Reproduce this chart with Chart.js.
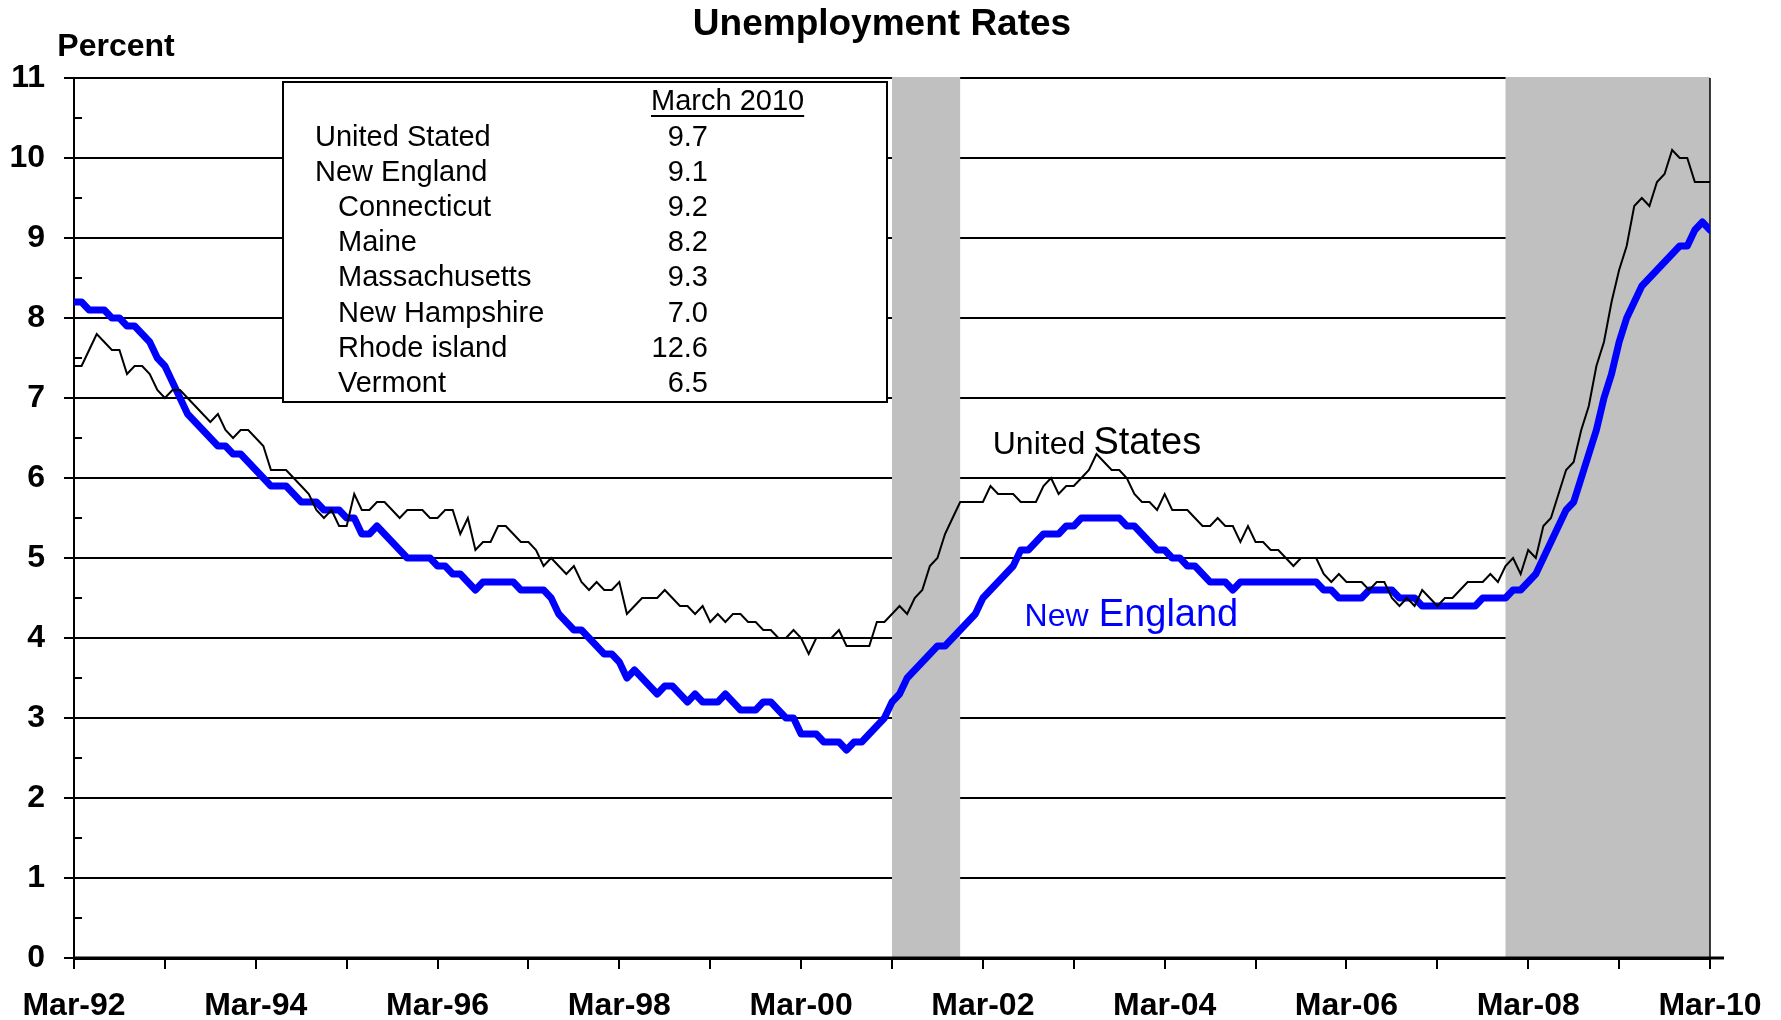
<!DOCTYPE html>
<html>
<head>
<meta charset="utf-8">
<title>Unemployment Rates</title>
<script src="https://cdn.jsdelivr.net/npm/chart.js"></script>
<style>
    html, body { margin: 0; padding: 0; background: #fff; }
    #chart { display: block; }
</style>
</head>
<body>
<canvas id="chart" width="1781" height="1020"></canvas>
<script>
    // monthly rates, Mar-92 .. Mar-10 (index 0 = Mar-92)
    const tickLabels = ['Mar-92', 'Mar-94', 'Mar-96', 'Mar-98', 'Mar-00', 'Mar-02', 'Mar-04', 'Mar-06', 'Mar-08', 'Mar-10'];

    const usRate = [
        7.4, 7.4, 7.6, 7.8, 7.7, 7.6, 7.6, 7.3, 7.4, 7.4,                  // 1992 Mar-Dec
        7.3, 7.1, 7.0, 7.1, 7.1, 7.0, 6.9, 6.8, 6.7, 6.8, 6.6, 6.5,        // 1993
        6.6, 6.6, 6.5, 6.4, 6.1, 6.1, 6.1, 6.0, 5.9, 5.8, 5.6, 5.5,        // 1994
        5.6, 5.4, 5.4, 5.8, 5.6, 5.6, 5.7, 5.7, 5.6, 5.5, 5.6, 5.6,        // 1995
        5.6, 5.5, 5.5, 5.6, 5.6, 5.3, 5.5, 5.1, 5.2, 5.2, 5.4, 5.4,        // 1996
        5.3, 5.2, 5.2, 5.1, 4.9, 5.0, 4.9, 4.8, 4.9, 4.7, 4.6, 4.7,        // 1997
        4.6, 4.6, 4.7, 4.3, 4.4, 4.5, 4.5, 4.5, 4.6, 4.5, 4.4, 4.4,        // 1998
        4.3, 4.4, 4.2, 4.3, 4.2, 4.3, 4.3, 4.2, 4.2, 4.1, 4.1, 4.0,        // 1999
        4.0, 4.1, 4.0, 3.8, 4.0, 4.0, 4.0, 4.1, 3.9, 3.9, 3.9, 3.9,        // 2000
        4.2, 4.2, 4.3, 4.4, 4.3, 4.5, 4.6, 4.9, 5.0, 5.3, 5.5, 5.7,        // 2001
        5.7, 5.7, 5.7, 5.9, 5.8, 5.8, 5.8, 5.7, 5.7, 5.7, 5.9, 6.0,        // 2002
        5.8, 5.9, 5.9, 6.0, 6.1, 6.3, 6.2, 6.1, 6.1, 6.0, 5.8, 5.7,        // 2003
        5.7, 5.6, 5.8, 5.6, 5.6, 5.6, 5.5, 5.4, 5.4, 5.5, 5.4, 5.4,        // 2004
        5.2, 5.4, 5.2, 5.2, 5.1, 5.1, 5.0, 4.9, 5.0, 5.0, 5.0, 4.8,        // 2005
        4.7, 4.8, 4.7, 4.7, 4.7, 4.6, 4.7, 4.7, 4.5, 4.4, 4.5, 4.4,        // 2006
        4.6, 4.5, 4.4, 4.5, 4.5, 4.6, 4.7, 4.7, 4.7, 4.8, 4.7, 4.9,        // 2007
        5.0, 4.8, 5.1, 5.0, 5.4, 5.5, 5.8, 6.1, 6.2, 6.6, 6.9, 7.4,        // 2008
        7.7, 8.2, 8.6, 8.9, 9.4, 9.5, 9.4, 9.7, 9.8, 10.1, 10.0, 10.0,     // 2009
        9.7, 9.7, 9.7                                                      // 2010 Jan-Mar
    ];

    const neRate = [
        8.2, 8.2, 8.1, 8.1, 8.1, 8.0, 8.0, 7.9, 7.9, 7.8,                  // 1992 Mar-Dec
        7.7, 7.5, 7.4, 7.2, 7.0, 6.8, 6.7, 6.6, 6.5, 6.4, 6.4, 6.3,        // 1993
        6.3, 6.2, 6.1, 6.0, 5.9, 5.9, 5.9, 5.8, 5.7, 5.7, 5.7, 5.6,        // 1994
        5.6, 5.6, 5.5, 5.5, 5.3, 5.3, 5.4, 5.3, 5.2, 5.1, 5.0, 5.0,        // 1995
        5.0, 5.0, 4.9, 4.9, 4.8, 4.8, 4.7, 4.6, 4.7, 4.7, 4.7, 4.7,        // 1996
        4.7, 4.6, 4.6, 4.6, 4.6, 4.5, 4.3, 4.2, 4.1, 4.1, 4.0, 3.9,        // 1997
        3.8, 3.8, 3.7, 3.5, 3.6, 3.5, 3.4, 3.3, 3.4, 3.4, 3.3, 3.2,        // 1998
        3.3, 3.2, 3.2, 3.2, 3.3, 3.2, 3.1, 3.1, 3.1, 3.2, 3.2, 3.1,        // 1999
        3.0, 3.0, 2.8, 2.8, 2.8, 2.7, 2.7, 2.7, 2.6, 2.7, 2.7, 2.8,        // 2000
        2.9, 3.0, 3.2, 3.3, 3.5, 3.6, 3.7, 3.8, 3.9, 3.9, 4.0, 4.1,        // 2001
        4.2, 4.3, 4.5, 4.6, 4.7, 4.8, 4.9, 5.1, 5.1, 5.2, 5.3, 5.3,        // 2002
        5.3, 5.4, 5.4, 5.5, 5.5, 5.5, 5.5, 5.5, 5.5, 5.4, 5.4, 5.3,        // 2003
        5.2, 5.1, 5.1, 5.0, 5.0, 4.9, 4.9, 4.8, 4.7, 4.7, 4.7, 4.6,        // 2004
        4.7, 4.7, 4.7, 4.7, 4.7, 4.7, 4.7, 4.7, 4.7, 4.7, 4.7, 4.6,        // 2005
        4.6, 4.5, 4.5, 4.5, 4.5, 4.6, 4.6, 4.6, 4.6, 4.5, 4.5, 4.5,        // 2006
        4.4, 4.4, 4.4, 4.4, 4.4, 4.4, 4.4, 4.4, 4.5, 4.5, 4.5, 4.5,        // 2007
        4.6, 4.6, 4.7, 4.8, 5.0, 5.2, 5.4, 5.6, 5.7, 6.0, 6.3, 6.6,        // 2008
        7.0, 7.3, 7.7, 8.0, 8.2, 8.4, 8.5, 8.6, 8.7, 8.8, 8.9, 8.9,        // 2009
        9.1, 9.2, 9.1                                                      // 2010 Jan-Mar
    ];

    // recession shading, month index from Mar-92
    const recessions = [[108, 117], [189, 216]];

    // table in the box
    const tableTitle = 'March 2010';
    const tableNames = ['United Stated', 'New England', 'Connecticut', 'Maine', 'Massachusetts', 'New Hampshire', 'Rhode island', 'Vermont'];
    const tableValues = ['9.7', '9.1', '9.2', '8.2', '9.3', '7.0', '12.6', '6.5'];
    const tableIndent = [false, false, true, true, true, true, true, true];

    const FONT = '"Liberation Sans", Arial, sans-serif';
    Chart.defaults.font.family = FONT;
    Chart.defaults.color = '#000';

    const decor = {
        id: 'decor',
        beforeDatasetsDraw(chart) {
            const { ctx, chartArea: a, scales: { x, y } } = chart;
            ctx.save();
            // grey bands over the grid
            ctx.fillStyle = '#c0c0c0';
            recessions.forEach(([s, e]) => {
                const x0 = x.getPixelForValue(s);
                const x1 = x.getPixelForValue(e);
                ctx.fillRect(x0, a.top - 1, x1 - x0, a.bottom - a.top + 1);
            });
            // axis line and right edge again
            ctx.strokeStyle = '#000';
            ctx.lineWidth = 3;
            ctx.beginPath();
            ctx.moveTo(a.left, a.bottom);
            ctx.lineTo(a.right + 14, a.bottom);
            ctx.stroke();
            ctx.lineWidth = 1.5;
            ctx.beginPath();
            ctx.moveTo(a.right, a.top);
            ctx.lineTo(a.right, a.bottom);
            ctx.stroke();
            // minor ticks inside the y axis
            ctx.lineWidth = 2;
            ctx.beginPath();
            for (let v = 0.5; v < 11; v++) {
                const py = y.getPixelForValue(v);
                ctx.moveTo(a.left, py);
                ctx.lineTo(a.left + 8, py);
            }
            ctx.stroke();
            ctx.restore();
        },
        afterDatasetsDraw(chart) {
            const { ctx, scales: { x, y } } = chart;
            ctx.save();

            // title and unit
            ctx.fillStyle = '#000';
            ctx.textAlign = 'center';
            ctx.textBaseline = 'middle';
            ctx.font = 'bold 37px ' + FONT;
            ctx.fillText('Unemployment Rates', 882, 25);
            ctx.font = 'bold 32px ' + FONT;
            ctx.fillText('Percent', 116, 47);

            // table box
            ctx.fillStyle = '#fff';
            ctx.fillRect(283, 82, 604, 320);
            ctx.strokeStyle = '#000';
            ctx.lineWidth = 2;
            ctx.strokeRect(283, 82, 604, 320);

            ctx.fillStyle = '#000';
            ctx.font = '29px ' + FONT;
            ctx.textAlign = 'left';
            ctx.fillText(tableTitle, 651, 102);
            const w = ctx.measureText(tableTitle).width;
            ctx.beginPath();
            ctx.moveTo(651, 116);
            ctx.lineTo(651 + w, 116);
            ctx.stroke();

            tableNames.forEach((name, i) => {
                const ty = 137.5 + i * 35.2;
                ctx.textAlign = 'left';
                ctx.fillText(name, tableIndent[i] ? 338 : 315, ty);
                ctx.textAlign = 'right';
                ctx.fillText(tableValues[i], 708, ty);
            });

            // series labels
            ctx.textAlign = 'left';
            ctx.textBaseline = 'alphabetic';
            ctx.font = '32px ' + FONT;
            ctx.fillText('United', x.getPixelForValue(121.3), y.getPixelForValue(6.3));
            ctx.font = '38px ' + FONT;
            ctx.fillText('States', x.getPixelForValue(134.6), y.getPixelForValue(6.3));
            ctx.fillStyle = '#0000ff';
            ctx.font = '32px ' + FONT;
            ctx.fillText('New', x.getPixelForValue(125.5), y.getPixelForValue(4.15));
            ctx.font = '38px ' + FONT;
            ctx.fillText('England', x.getPixelForValue(135.3), y.getPixelForValue(4.15));

            ctx.restore();
        }
    };

    new Chart(document.getElementById('chart'), {
        type: 'line',
        data: {
            datasets: [
                {
                    label: 'United States',
                    data: usRate.map((v, i) => ({ x: i, y: v })),
                    borderColor: '#000',
                    borderWidth: 2,
                    pointRadius: 0,
                    tension: 0
                },
                {
                    label: 'New England',
                    data: neRate.map((v, i) => ({ x: i, y: v })),
                    borderColor: '#0000ff',
                    borderWidth: 7,
                    borderJoinStyle: 'round',
                    borderCapStyle: 'round',
                    pointRadius: 0,
                    tension: 0
                }
            ]
        },
        options: {
            responsive: false,
            animation: false,
            devicePixelRatio: 1,
            layout: { padding: { left: 0, right: 71, top: 78, bottom: 0 } },
            plugins: {
                legend: { display: false },
                tooltip: { enabled: false },
                title: { display: false }
            },
            scales: {
                x: {
                    type: 'linear',
                    min: 0,
                    max: 216,
                    ticks: {
                        stepSize: 12,
                        autoSkip: false,
                        maxRotation: 0,
                        padding: 18,
                        color: '#000',
                        font: { size: 32, weight: 'bold' },
                        callback: v => (v % 24 === 0 ? tickLabels[v / 24] : '')
                    },
                    grid: { drawOnChartArea: false, drawTicks: true, tickLength: 11, color: '#000', lineWidth: 2 },
                    border: { display: true, color: '#000', width: 3 },
                    afterFit: s => { s.height = 62; }
                },
                y: {
                    min: 0,
                    max: 11,
                    ticks: {
                        stepSize: 1,
                        padding: 19,
                        color: '#000',
                        font: { size: 32, weight: 'bold' }
                    },
                    grid: { color: '#000', lineWidth: 2, tickLength: 10 },
                    border: { color: '#000', width: 2 },
                    afterFit: s => { s.width = 74; }
                }
            }
        },
        plugins: [decor]
    });
</script>
</body>
</html>
